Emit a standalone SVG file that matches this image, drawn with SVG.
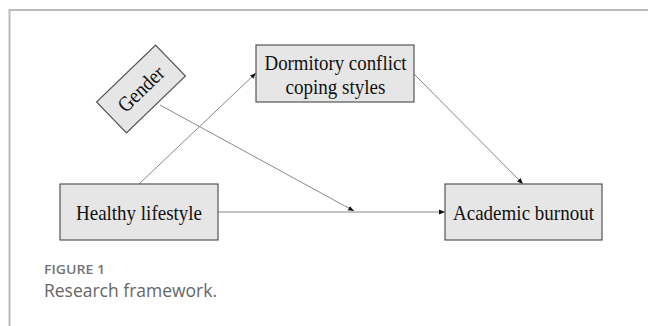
<svg xmlns="http://www.w3.org/2000/svg" width="648" height="326" viewBox="0 0 648 326">
<defs>
<marker id="arr" viewBox="0 0 10 10" refX="10" refY="5" markerWidth="6" markerHeight="6" markerUnits="userSpaceOnUse" orient="auto">
<path d="M0,1 L10,5 L0,9 z" fill="#111"/>
</marker>
</defs>
<style>
.box{fill:#e6e6e6;stroke:#555;stroke-width:1.2}
.lbl{font-family:"Liberation Serif","Times New Roman",serif;font-size:21px;fill:#111;text-anchor:middle}
.edge{stroke:#888;stroke-width:1;fill:none;marker-end:url(#arr)}
.frame{stroke:#bcbcbc;fill:none}
.cap1{font-family:"Open Sans","Noto Sans",sans-serif;font-size:12px;font-weight:600;fill:#747474}
.cap2{font-family:"Open Sans","Noto Sans",sans-serif;font-size:18px;font-weight:400;fill:#666}
</style>
<rect x="0" y="0" width="648" height="326" fill="#fff"/>
<path class="frame" d="M9.5,326 V10 H648" stroke-width="2"/>
<g id="connectors">
<line class="edge" x1="139" y1="184" x2="256" y2="73"/>
<line class="edge" x1="414" y1="74" x2="523" y2="184"/>
<line class="edge" x1="218" y1="212" x2="445" y2="212"/>
<line class="edge" x1="160" y1="105" x2="354" y2="211"/>
</g>
<g id="gender">
<g transform="translate(141,89) rotate(-44)">
<rect class="box" x="-41" y="-21.5" width="82" height="43"/>
<text class="lbl" x="0" y="7" textLength="56" lengthAdjust="spacingAndGlyphs">Gender</text>
</g>
</g>
<g id="dormitory">
<rect class="box" x="256" y="45" width="158" height="57"/>
<text class="lbl" x="335.5" y="70" textLength="142" lengthAdjust="spacingAndGlyphs">Dormitory conflict</text>
<text class="lbl" x="335.5" y="93.5" textLength="100" lengthAdjust="spacingAndGlyphs">coping styles</text>
</g>
<g id="healthy">
<rect class="box" x="60" y="184" width="158" height="56"/>
<text class="lbl" x="139" y="220" textLength="126" lengthAdjust="spacingAndGlyphs">Healthy lifestyle</text>
</g>
<g id="academic">
<rect class="box" x="445" y="184" width="157" height="56"/>
<text class="lbl" x="523.5" y="220" textLength="141" lengthAdjust="spacingAndGlyphs">Academic burnout</text>
</g>
<text class="cap1" x="44" y="274" textLength="61" lengthAdjust="spacingAndGlyphs">FIGURE 1</text>
<text class="cap2" x="44" y="297" textLength="173" lengthAdjust="spacingAndGlyphs">Research framework.</text>
</svg>
